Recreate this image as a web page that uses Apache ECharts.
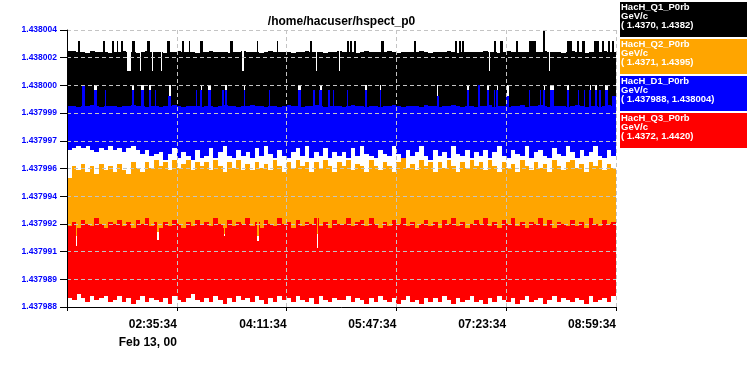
<!DOCTYPE html>
<html><head><meta charset="utf-8">
<script src="https://cdn.jsdelivr.net/npm/echarts@6/dist/echarts.min.js"></script>
<style>html,body{margin:0;padding:0;background:#fff}#c{width:748px;height:375px}</style>
</head><body><div id="c"></div>
<script>
const titleText = '/home/hacuser/hspect_p0';
const seriesNames = ['HacH_Q1_P0rb', 'HacH_Q2_P0rb', 'HacH_D1_P0rb', 'HacH_Q3_P0rb'];
const seriesUnits = ['GeV/c', 'GeV/c', 'GeV/c', 'GeV/c'];
const seriesRanges = [[1.4370, 1.4382], [1.4371, 1.4395], [1.437988, 1.438004], [1.4372, 1.4420]];
const rangeLabels = ['( 1.4370, 1.4382)', '( 1.4371, 1.4395)', '( 1.437988, 1.438004)', '( 1.4372, 1.4420)'];
const seriesColors = ['#000000', '#ffa500', '#0000ff', '#ff0000'];
const yTickLabels = ['1.437988', '1.437989', '1.437991', '1.437992', '1.437994', '1.437996', '1.437997', '1.437999', '1.438000', '1.438002', '1.438004'];
const xTickLabels = ['', '02:35:34', '04:11:34', '05:47:34', '07:23:34', '08:59:34'];
const xDateLabel = 'Feb 13, 00';
const spanMinutes = 480;   // minutes after 00:59:34
const tickMinutes = 96;
const binMinutes = 4;

// per 4-minute bin: upper / lower envelope of each series
const q1Hi = [
1.438109,1.438109,1.4381047,1.4381047,1.4381004,1.438109,1.4381047,1.4381047,1.4381047,1.4381004,
1.4381047,1.4381047,1.438109,1.4381047,1.4381047,1.4381004,1.4381047,1.438109,1.4381047,1.4381047,
1.4381047,1.4381004,1.4381047,1.4381047,1.438109,1.4381047,1.4381047,1.4381047,1.4381004,1.4381047,
1.4381047,1.438109,1.4381047,1.4381047,1.4381047,1.4381004,1.4381047,1.4381047,1.438109,1.4381047,
1.4381047,1.4381047,1.4381004,1.4381047,1.438109,1.4381047,1.4381047,1.4381047,1.4381047,1.4381004,
1.4381047,1.4381047,1.438109,1.4381047,1.4381047,1.4381047,1.4381004,1.4381047,1.4381047,1.438109,
1.4381047,1.4381047,1.4381047,1.4381004,1.4381047,1.438109,1.4381047,1.4381047,1.4381047,1.4381047,
1.438109,1.4381047,1.4381004,1.4381047,1.4381047,1.4381047,1.4381047,1.438109,1.4381047,1.4381004,
1.4381047,1.4381047,1.4381047,1.438109,1.4381047,1.4381004,1.4381047,1.4381047,1.4381047,1.4381047,
1.4381047,1.438109,1.4381047,1.4381047,1.4381004,1.4381047,1.438109,1.4381047,1.4381047,1.4381047,
1.4381047,1.4381004,1.4381047,1.4381047,1.438109,1.4381047,1.4381047,1.4381047,1.4381004,1.4381047,
1.438109,1.4381047,1.4381047,1.4381004,1.4381047,1.4381047,1.4381047,1.438109,1.4381047,1.4381047];
const q1Lo = [
1.4378621,1.4378664,1.4378621,1.4378621,1.4378664,1.4378621,1.4378621,1.4378664,1.4378621,1.4378621,
1.4378664,1.4378621,1.4378621,1.4378664,1.4378621,1.4378621,1.4378621,1.4378664,1.4378621,1.4378664,
1.4378621,1.4378621,1.4378664,1.4378621,1.4378621,1.4378664,1.4378621,1.4378621,1.4378621,1.4378664,
1.4378664,1.4378621,1.4378621,1.4378621,1.4378664,1.4378621,1.4378664,1.4378621,1.4378621,1.4378621,
1.4378621,1.4378664,1.4378621,1.4378664,1.4378621,1.4378621,1.4378621,1.4378664,1.4378621,1.4378621,
1.4378621,1.4378621,1.4378664,1.4378621,1.4378621,1.4378664,1.4378621,1.4378621,1.4378664,1.4378621,
1.4378664,1.4378621,1.4378621,1.4378664,1.4378621,1.4378621,1.4378664,1.4378621,1.4378621,1.4378621,
1.4378621,1.4378621,1.4378664,1.4378621,1.4378664,1.4378621,1.4378621,1.4378621,1.4378664,1.4378621,
1.4378664,1.4378621,1.4378621,1.4378621,1.4378621,1.4378664,1.4378621,1.4378664,1.4378621,1.4378621,
1.4378621,1.4378664,1.4378621,1.4378621,1.4378664,1.4378621,1.4378621,1.4378621,1.4378664,1.4378621,
1.4378621,1.4378621,1.4378664,1.4378621,1.4378621,1.4378621,1.4378664,1.4378621,1.4378621,1.4378664,
1.4378664,1.4378621,1.4378621,1.4378664,1.4378621,1.4378621,1.4378621,1.4378664,1.4378621,1.4378621];
const q2Hi = [
1.4382177,1.4383217,1.438287,1.438339,1.4382697,1.4383217,1.4382523,1.438339,1.438287,1.4383217,
1.4382697,1.438339,1.438287,1.4382523,1.4383563,1.4383043,1.4382697,1.4383563,1.4383043,1.4383736,
1.4383217,1.4383563,1.438287,1.4383736,1.4383043,1.438339,1.4383736,1.438287,1.4383563,1.4383217,
1.4383563,1.438287,1.4383736,1.4383217,1.4382697,1.4383563,1.4383043,1.4383736,1.438287,1.438339,
1.438287,1.4383563,1.4383043,1.438339,1.438287,1.4383736,1.4383217,1.4382697,1.4383563,1.4383043,
1.4383736,1.4383217,1.4383563,1.4382697,1.4383563,1.4383043,1.4383736,1.4383217,1.4382697,1.4383563,
1.4383217,1.4383736,1.438287,1.438339,1.4383217,1.4382697,1.4383736,1.4383217,1.438287,1.4383563,
1.4383217,1.4382697,1.4383563,1.438391,1.4383043,1.438339,1.438287,1.4383736,1.4383217,1.4383563,
1.4382697,1.4383563,1.4383043,1.4383736,1.4383217,1.4382697,1.4383563,1.4383043,1.4383736,1.4383217,
1.4383563,1.438287,1.4383736,1.4383217,1.4382697,1.4383563,1.4383043,1.438339,1.4382697,1.4383736,
1.4383217,1.438287,1.4383563,1.4383043,1.438339,1.4382697,1.4383736,1.4383217,1.438287,1.4383563,
1.4383736,1.4383043,1.438339,1.4382697,1.4383563,1.4383217,1.4383736,1.438287,1.438339,1.4383043];
const q2Lo = [
1.4377325,1.4377498,1.4377152,1.4377412,1.4377671,1.4377325,1.4377152,1.4377498,1.4377325,1.4377412,
1.4377498,1.4377152,1.4377325,1.4377671,1.4377412,1.4377325,1.4377498,1.4377152,1.4377325,1.4377498,
1.4377152,1.4377325,1.4377498,1.4377412,1.4377671,1.4377325,1.4377152,1.4377498,1.4377325,1.4377412,
1.4377325,1.4377498,1.4377671,1.4377152,1.4377325,1.4377412,1.4377498,1.4377152,1.4377325,1.4377498,
1.4377412,1.4377152,1.4377325,1.4377498,1.4377671,1.4377325,1.4377412,1.4377152,1.4377498,1.4377325,
1.4377498,1.4377325,1.4377152,1.4377412,1.4377325,1.4377671,1.4377498,1.4377325,1.4377152,1.4377412,
1.4377152,1.4377498,1.4377325,1.4377671,1.4377412,1.4377325,1.4377152,1.4377498,1.4377325,1.4377412,
1.4377325,1.4377412,1.4377498,1.4377152,1.4377325,1.4377671,1.4377412,1.4377325,1.4377498,1.4377152,
1.4377498,1.4377325,1.4377152,1.4377412,1.4377325,1.4377498,1.4377671,1.4377325,1.4377152,1.4377412,
1.4377325,1.4377152,1.4377498,1.4377325,1.4377412,1.4377671,1.4377325,1.4377498,1.4377152,1.4377325,
1.4377412,1.4377498,1.4377325,1.4377152,1.4377671,1.4377325,1.4377412,1.4377498,1.4377325,1.4377152,
1.4377325,1.4377412,1.4377152,1.4377498,1.4377325,1.4377671,1.4377325,1.4377412,1.4377498,1.4377325];
const d1Hi = [
1.43799961,1.43799961,1.43799955,1.43799961,1.43799961,1.43799967,1.43799961,1.43799955,1.43799961,1.43799961,
1.43799961,1.43799955,1.43799961,1.43799961,1.43799967,1.43799961,1.43799961,1.43799955,1.43799961,1.43799961,
1.43799955,1.43799961,1.43799961,1.43799967,1.43799961,1.43799955,1.43799961,1.43799961,1.43799961,1.43799955,
1.43799961,1.43799961,1.43799955,1.43799961,1.43799967,1.43799961,1.43799961,1.43799955,1.43799961,1.43799961,
1.43799967,1.43799961,1.43799961,1.43799955,1.43799961,1.43799961,1.43799955,1.43799961,1.43799967,1.43799961,
1.43799961,1.43799955,1.43799961,1.43799961,1.43799967,1.43799961,1.43799955,1.43799961,1.43799961,1.43799961,
1.43799955,1.43799961,1.43799967,1.43799961,1.43799961,1.43799955,1.43799961,1.43799961,1.43799955,1.43799961,
1.43799961,1.43799967,1.43799961,1.43799955,1.43799961,1.43799961,1.43799961,1.43799955,1.43799967,1.43799961,
1.43799961,1.43799955,1.43799961,1.43799961,1.43799967,1.43799961,1.43799955,1.43799961,1.43799961,1.43799955,
1.43799961,1.43799961,1.43799967,1.43799955,1.43799961,1.43799961,1.43799955,1.43799961,1.43799961,1.43799967,
1.43799955,1.43799961,1.43799961,1.43799967,1.43799961,1.43799955,1.43799961,1.43799961,1.43799961,1.43799955,
1.43799961,1.43799967,1.43799961,1.43799955,1.43799961,1.43799961,1.43799955,1.43799961,1.43799967,1.43799961];
const d1Lo = [
1.43799707,1.43799718,1.4379973,1.43799718,1.4379973,1.43799707,1.43799695,1.43799718,1.43799707,1.4379973,
1.43799707,1.43799718,1.43799695,1.43799718,1.4379973,1.43799707,1.43799684,1.43799707,1.43799672,1.43799684,
1.43799695,1.43799649,1.43799684,1.43799718,1.43799661,1.43799695,1.43799672,1.43799649,1.43799707,1.43799661,
1.43799672,1.43799718,1.43799661,1.43799695,1.4379973,1.43799672,1.43799661,1.43799707,1.43799672,1.43799695,
1.43799661,1.43799718,1.43799672,1.4379973,1.43799684,1.43799661,1.43799707,1.43799672,1.43799661,1.43799695,
1.43799718,1.43799672,1.4379973,1.43799661,1.43799695,1.43799672,1.43799718,1.43799661,1.43799695,1.43799672,
1.43799695,1.43799661,1.43799718,1.43799672,1.4379973,1.43799684,1.43799672,1.43799661,1.43799707,1.43799684,
1.43799672,1.4379973,1.43799684,1.43799661,1.43799707,1.43799672,1.43799695,1.4379973,1.43799672,1.43799649,
1.43799707,1.43799672,1.43799695,1.43799661,1.4379973,1.43799684,1.43799672,1.43799707,1.43799661,1.43799695,
1.43799672,1.43799707,1.43799661,1.43799695,1.4379973,1.43799672,1.43799661,1.43799707,1.43799684,1.43799672,
1.4379973,1.43799661,1.43799695,1.43799707,1.43799672,1.43799661,1.43799718,1.43799684,1.43799672,1.4379973,
1.43799695,1.43799661,1.43799707,1.43799672,1.43799695,1.4379973,1.43799672,1.43799661,1.43799707,1.43799672];
const q3Hi = [
1.4386036,1.4386729,1.438569,1.4387076,1.4386383,1.4386036,1.4387422,1.4386383,1.438569,1.4386729,
1.4386383,1.4387076,1.4386036,1.4386729,1.438569,1.4387076,1.4386383,1.4387422,1.4386036,1.4386729,
1.438569,1.4386729,1.4386036,1.4387076,1.4386383,1.438569,1.4386729,1.4386036,1.4387076,1.4386383,
1.4386729,1.4386036,1.4387422,1.4386383,1.438569,1.4387076,1.4386036,1.4386729,1.4386383,1.4387422,
1.4386036,1.4386729,1.438569,1.4387076,1.4386383,1.4386036,1.4387422,1.4386383,1.4386729,1.438569,
1.4387076,1.4386036,1.4386729,1.4386383,1.4387422,1.4386036,1.4386729,1.438569,1.4387076,1.4386383,
1.4386383,1.4387422,1.4386036,1.4386729,1.4387076,1.4386036,1.4387422,1.4386383,1.438569,1.4386729,
1.4386036,1.4387076,1.4386383,1.4387422,1.4386036,1.4386729,1.438569,1.4386383,1.4387076,1.4386036,
1.4386729,1.438569,1.4387076,1.4386383,1.4387422,1.4386036,1.4386729,1.438569,1.4386383,1.4387076,
1.4386383,1.4387422,1.4386036,1.4386729,1.438569,1.4387076,1.4386383,1.4387422,1.4386036,1.4386729,
1.438569,1.4386729,1.4386383,1.4387422,1.4386036,1.4387076,1.438569,1.4386729,1.4386383,1.4386036,
1.4387076,1.4386036,1.4386729,1.438569,1.4387422,1.4386383,1.4386036,1.4387076,1.4386383,1.4386729];
const q3Lo = [
1.437356,1.4373213,1.4374253,1.437356,1.4372867,1.4373906,1.4373213,1.437356,1.4373906,1.4372867,
1.4373213,1.4373906,1.4372867,1.437356,1.437252,1.4373213,1.4373906,1.4372867,1.437356,1.4373213,
1.4372867,1.437356,1.437252,1.4373906,1.4373213,1.4372867,1.437356,1.4374253,1.4373213,1.4372867,
1.437356,1.4372867,1.4373906,1.4373213,1.437252,1.437356,1.4372867,1.4373906,1.4373213,1.437356,
1.4372867,1.4373906,1.4373213,1.437252,1.437356,1.4372867,1.4373906,1.4373213,1.437356,1.4372867,
1.4373906,1.4373213,1.4372867,1.437356,1.437252,1.4373906,1.4373213,1.4372867,1.437356,1.4373213,
1.4373213,1.4373906,1.4372867,1.437356,1.4373213,1.437252,1.437356,1.4372867,1.4373906,1.4373213,
1.4372867,1.437356,1.437252,1.4373213,1.4373906,1.4372867,1.4373213,1.437252,1.437356,1.4372867,
1.437356,1.4372867,1.4373906,1.4373213,1.437252,1.437356,1.4372867,1.4373213,1.4373906,1.4372867,
1.4373213,1.437252,1.437356,1.4372867,1.4373906,1.4373213,1.4372867,1.437356,1.437252,1.4373213,
1.4373906,1.4372867,1.4373213,1.437356,1.437252,1.4373213,1.4373906,1.4372867,1.437356,1.4373213,
1.4372867,1.437356,1.4373213,1.437252,1.4373906,1.4372867,1.4373213,1.437356,1.4372867,1.4373906];

// short excursions: [start minute, duration minutes, lower value or null, upper value or null]
const q1Events = [
[0,1,null,1.4381523],[10,1.5,null,1.4381523],[31.5,1.5,null,1.4381523],[39.3,1,null,1.4381523],[43.3,1,null,1.4381523],
[47.6,1.2,null,1.4381523],[57,2.4,null,1.4381523],[70.3,2.2,null,1.4381523],[87.4,2.4,null,1.4381523],[100.5,1.4,null,1.4381523],
[106.7,1,null,1.4381523],[116.3,1.6,null,1.4381523],[142.5,1.6,null,1.4381523],[166.1,1.2,null,1.4381523],[183.2,1.2,null,1.4381523],
[212.5,1.4,null,1.4381523],[244.4,2.4,null,1.4381523],[247.4,1.4,null,1.4381523],[250.9,1.6,null,1.4381523],[274.8,2.3,null,1.4381523],
[303.4,1.4,null,1.4381523],[339.2,1.6,null,1.4381523],[342.7,1.6,null,1.4381523],[345.3,1.6,null,1.4381523],[373.3,1.6,null,1.4381523],
[378.6,2,null,1.4381523],[392.8,1.6,null,1.4381523],[403.9,5.8,null,1.4381523],[416.3,1.6,null,1.4381995],[437.2,2,null,1.4381523],
[439.8,1.6,null,1.4381523],[445.9,1.6,null,1.4381523],[450.3,2.6,null,1.4381523],[460.8,3.4,null,1.4381523],[467.5,2.2,null,1.4381523],
[473,1.6,null,1.4381523],[476.5,1.6,null,1.4381523],
[52.5,3.2,null,1.4380224],[63.4,1.3,null,1.4380224],[74.2,1.1,null,1.4380224],[81.8,1.1,null,1.4380224],[153.4,1.2,null,1.4380224],
[217.7,1.1,null,1.4380224],[237.5,1.1,null,1.4380224],[369,1.1,null,1.4380224],[421.4,1.1,null,1.4380224],
[23.6,2.3,1.437963,null],[56.6,2,1.437963,null],[64.7,2.6,1.437963,null],[71.7,1.5,1.437963,null],[88.6,2,1.437963,null],
[116.3,1.5,1.437963,null],[123.3,2.6,1.437963,null],[138.1,1.5,1.437963,null],[154.5,1.1,1.437963,null],[201.7,2.6,1.437963,null],
[220.3,2.4,1.437963,null],[244.8,1.1,1.437963,null],[260.5,1.7,1.437963,null],[273.4,1.1,1.437963,null],[323.2,1.1,1.437963,null],
[349.7,1.7,1.437963,null],[367.2,2,1.437963,null],[375.3,1.7,1.437963,null],[384.1,2.4,1.437963,null],[416.2,2,1.437963,null],
[422,3.5,1.437963,null],[436.9,2,1.437963,null],[456.1,1.7,1.437963,null],[461.9,1.5,1.437963,null],[470.6,2.4,1.437963,null]];
const q2Events = [];
const d1Events = [
[23.6,2.3,null,1.43800055],[56.6,2,null,1.43800055],[64.7,2.6,null,1.43800055],[71.7,1.5,null,1.43800055],[88.6,2,null,1.43800017],
[116.3,1.5,null,1.43800055],[123.3,2.6,null,1.43800055],[138.1,1.5,null,1.43800055],[154.5,1.1,null,1.43800055],[201.7,2.6,null,1.43800055],
[220.3,2.4,null,1.43800055],[244.8,1.1,null,1.43800055],[260.5,1.7,null,1.43800055],[273.4,1.1,null,1.43800055],[323.2,1.1,null,1.43800017],
[349.7,1.7,null,1.43800055],[367.2,2,null,1.43800055],[375.3,1.7,null,1.43800055],[384.1,2.4,null,1.43800017],[416.2,2,null,1.43800055],
[422,3.5,null,1.43800055],[436.9,2,null,1.43800055],[456.1,1.7,null,1.43800055],[461.9,1.5,null,1.43800055],[470.6,2.4,null,1.43800055],
[13.4,2.3,null,1.43800084],[33.2,1.1,null,1.43800055],[76.7,1.1,null,1.43800055],[112.5,1.4,null,1.43800055],[135.3,1.4,null,1.43800055],
[176.6,1.1,null,1.43800055],[214.8,1.4,null,1.43800055],[228.5,1.5,null,1.43800055],[232.6,1.1,null,1.43800055],[359.3,1.5,null,1.43800084],
[373,1.4,null,1.43800055],[403.7,1.1,null,1.43800055],[413.3,1.1,null,1.43800055],[446.8,1.1,null,1.43800055],[451.7,1.4,null,1.43800055],
[464.9,2,null,1.43800055],[476.5,3.5,null,1.43800017]];
const q3Events = [
[7.6,1.1,null,1.438257],[79,1.1,null,1.4383662],[136.7,1.1,null,1.4384303],[166.4,1.1,null,1.4383437],[218.3,1.1,null,1.4382224]];

function buildSegments(hi, lo, events) {
  const cuts = new Set();
  for (let k = 0; k <= hi.length; k++) cuts.add(k * binMinutes);
  events.forEach(e => { cuts.add(e[0]); cuts.add(Math.min(e[0] + e[1], spanMinutes)); });
  const ts = Array.from(cuts).sort((a, b) => a - b);
  const out = [];
  for (let i = 0; i < ts.length - 1; i++) {
    const a = ts[i], b = ts[i + 1];
    if (b - a < 1e-9) continue;
    const m = (a + b) / 2;
    const k = Math.min(hi.length - 1, Math.floor(m / binMinutes));
    let l = lo[k], h = hi[k];
    events.forEach(e => {
      if (m > e[0] && m < e[0] + e[1]) {
        if (e[2] != null) l = e[2];
        if (e[3] != null) h = e[3];
      }
    });
    out.push([a, b, l, h]);
  }
  return out;
}

const bands = [
  buildSegments(q1Hi, q1Lo, q1Events),
  buildSegments(q2Hi, q2Lo, q2Events),
  buildSegments(d1Hi, d1Lo, d1Events),
  buildSegments(q3Hi, q3Lo, q3Events)
];

function bandSeries(i) {
  const color = seriesColors[i];
  return {
    type: 'custom', name: seriesNames[i], xAxisIndex: 0, yAxisIndex: i + 1,
    data: bands[i], encode: { x: [0, 1], y: [2, 3] }, clip: true, silent: true, z: 2,
    renderItem(params, api) {
      const p1 = api.coord([api.value(0), api.value(3)]);
      const p2 = api.coord([api.value(1), api.value(2)]);
      const x0 = Math.round(p1[0]), x1 = Math.round(p2[0]);
      const y0 = Math.round(p1[1]), y1 = Math.round(p2[1]);
      return { type: 'rect', shape: { x: x0, y: y0, width: Math.max(1, x1 - x0), height: Math.max(1, y1 - y0) },
               style: { fill: color } };
    }
  };
}

const gridLine = { show: true, lineStyle: { color: '#c4c4c4', type: [4, 3], width: 1 } };
const font = '"Liberation Sans", Arial, sans-serif';

const hiddenY = seriesRanges.map(r => ({ type: 'value', show: false, min: r[0], max: r[1], gridIndex: 0 }));

const legendGraphics = seriesNames.map((n, i) => ({
  type: 'group', x: 620, y: 2 + i * 37,
  children: [
    { type: 'rect', shape: { x: 0, y: 0, width: 127, height: 35 }, style: { fill: seriesColors[i] } },
    { type: 'text', x: 1, y: 0.5, style: { text: n + '\n' + seriesUnits[i] + '\n' + rangeLabels[i], fill: '#ffffff',
      font: 'bold 9.5px ' + font, lineHeight: 9, verticalAlign: 'top' } }
  ]
}));

const chart = echarts.init(document.getElementById('c'), null, { renderer: 'canvas' });
chart.setOption({
  animation: false,
  backgroundColor: '#ffffff',
  grid: { left: 67, right: 132, top: 30, bottom: 68 },
  xAxis: {
    type: 'value', min: 0, max: spanMinutes, interval: tickMinutes, offset: 3, z: 5,
    axisLine: { show: true, lineStyle: { color: '#000', width: 1 } },
    axisTick: { show: true, length: 4, lineStyle: { color: '#000' } },
    splitLine: gridLine,
    axisLabel: {
      show: true, showMinLabel: true, showMaxLabel: true, margin: 6, align: 'right',
      color: '#000', fontWeight: 'bold', fontSize: 12, fontFamily: font, lineHeight: 18,
      formatter: v => {
        const i = Math.round(v / tickMinutes);
        const lbl = xTickLabels[i] || '';
        return i === 1 ? lbl + '\n' + xDateLabel : lbl;
      }
    }
  },
  yAxis: [{
    type: 'value', min: 0, max: yTickLabels.length - 1, interval: 1, position: 'left', z: 5,
    axisLine: { show: true, lineStyle: { color: '#000', width: 1 } },
    axisTick: { show: true, length: 7, lineStyle: { color: '#000' } },
    splitLine: gridLine,
    axisLabel: { show: true, showMinLabel: true, showMaxLabel: true, margin: 10, color: '#0000ff',
      fontWeight: 'bold', fontSize: 8.5, fontFamily: font, formatter: v => yTickLabels[Math.round(v)] }
  }].concat(hiddenY),
  series: [0, 1, 2, 3].map(bandSeries),
  graphic: [
    { type: 'text', x: 341.5, y: 21.7, style: { text: titleText, font: 'bold 12px ' + font, fill: '#000',
      align: 'center', verticalAlign: 'middle' } }
  ].concat(legendGraphics)
});
</script>
</body></html>
